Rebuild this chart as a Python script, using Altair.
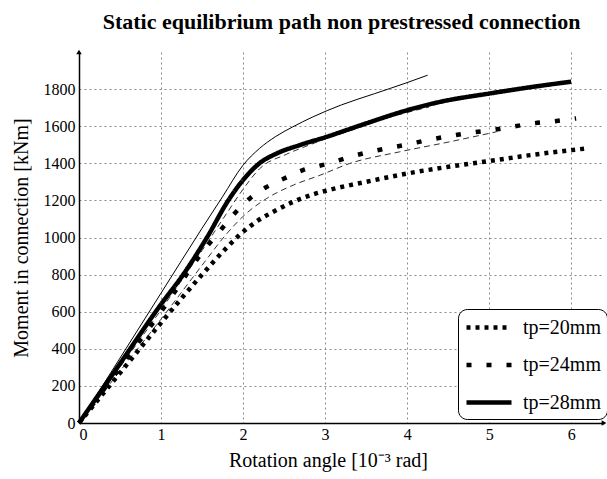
import altair as alt
import pandas as pd

FONT = "Liberation Serif"
X_MAX = 6.4
Y_MAX = 2000

# Rotation angle [1e-3 rad] and moment [kNm] along each equilibrium path
tp20_x = [0, 0.5, 1.0, 1.5, 1.8, 1.96, 2.16, 2.37, 2.61, 2.85, 3.1, 3.5, 4.0, 4.5, 5.0, 5.5, 6.18]
tp20_y = [0, 270, 540, 800, 945, 1015, 1085, 1139, 1192, 1232, 1262, 1300, 1345, 1381, 1412, 1444, 1480]

tp24_x = [0, 0.5, 1.0, 1.54, 1.71, 1.88, 2.06, 2.27, 2.5, 2.73, 3.0, 3.24, 3.49, 3.75, 4.0,
          4.25, 4.51, 4.76, 5.03, 5.28, 5.53, 5.8, 6.06]
tp24_y = [0, 300, 600, 941, 1031, 1121, 1202, 1268, 1318, 1363, 1394, 1426, 1456, 1480, 1501,
          1525, 1546, 1564, 1579, 1597, 1615, 1627, 1642]

tp28_x = [0, 0.5, 1.0, 1.27, 1.56, 1.82, 2.0, 2.2, 2.41, 2.69, 3.02, 3.5, 4.0, 4.4, 5.0, 5.5, 6.0]
tp28_y = [0, 320, 640, 800, 1000, 1200, 1310, 1400, 1453, 1498, 1543, 1615, 1686, 1731, 1776, 1810, 1840]

# companion paths drawn with thin lines
thin_solid_x = [0, 0.5, 1.0, 1.5, 1.75, 2.0, 2.2, 2.4, 2.6, 2.85, 3.2, 3.6, 4.0, 4.25]
thin_solid_y = [0, 350, 700, 1050, 1220, 1390, 1480, 1545, 1595, 1650, 1715, 1775, 1835, 1875]

thin_dash_hi_x = [0, 1.0, 1.5, 1.8, 2.0, 2.2, 2.53, 2.77, 3.02, 3.4, 3.75, 4.0, 4.27]
thin_dash_hi_y = [0, 610, 930, 1130, 1260, 1370, 1449, 1492, 1534, 1590, 1645, 1674, 1704]

thin_dash_lo_x = [0, 0.5, 1.0, 1.5, 1.8, 2.04, 2.29, 2.61, 2.94, 3.3, 3.91, 4.52, 5.09]
thin_dash_lo_y = [0, 280, 560, 850, 1020, 1130, 1211, 1282, 1336, 1399, 1462, 1516, 1570]

series_names = ["tp=20mm", "tp=24mm", "tp=28mm"]
x_ticks = [0, 1, 2, 3, 4, 5, 6]
y_ticks = [0, 200, 400, 600, 800, 1000, 1200, 1400, 1600, 1800]


def frame(name, xs, ys):
    return pd.DataFrame({"rot": xs, "moment": ys, "series": name, "order": range(len(xs))})


main = pd.concat([
    frame("tp=20mm", tp20_x, tp20_y),
    frame("tp=24mm", tp24_x, tp24_y),
    frame("tp=28mm", tp28_x, tp28_y),
])
thin = pd.concat([
    frame("solid", thin_solid_x, thin_solid_y),
    frame("dash_hi", thin_dash_hi_x, thin_dash_hi_y),
    frame("dash_lo", thin_dash_lo_x, thin_dash_lo_y),
])

axis_style = dict(
    labelFont=FONT, labelFontSize=16, labelColor="black",
    titleFont=FONT, titleFontSize=20, titleFontWeight="normal", titleColor="black",
    domainColor="black", domainWidth=1.5, ticks=False, format="d",
    grid=True, gridColor="#8a8a8a", gridDash=[2, 3], gridWidth=1,
)

x_enc = alt.X("rot:Q", scale=alt.Scale(domain=[0, X_MAX], nice=False),
              axis=alt.Axis(title="Rotation angle [10⁻³ rad]", values=x_ticks,
                            titleX=249, titlePadding=8, labelPadding=3, **axis_style))
y_enc = alt.Y("moment:Q", scale=alt.Scale(domain=[0, Y_MAX], nice=False),
              axis=alt.Axis(title="Moment in connection [kNm]", values=y_ticks,
                            titlePadding=12, labelPadding=4, **axis_style))

# legend keys: a long horizontal stroke drawn right of the nominal symbol slot
legend_key = "M-1,0H3.5"

main_lines = alt.Chart(main).mark_line(color="black", strokeCap="butt", interpolate="monotone").encode(
    x=x_enc,
    y=y_enc,
    order="order:Q",
    strokeDash=alt.StrokeDash(
        "series:N",
        scale=alt.Scale(domain=series_names, range=[[4, 5], [5, 15], [1, 0]]),
        legend=alt.Legend(
            title=None, orient="none", legendX=379, legendY=257,
            strokeColor="black", fillColor="white", cornerRadius=9, padding=6,
            symbolType=legend_key, symbolSize=400, symbolStrokeWidth=5,
            symbolStrokeColor="black", symbolFillColor="transparent",
            labelFont=FONT, labelFontSize=20,
            labelOffset=34, rowPadding=14.5, labelColor="black",
        ),
    ),
    strokeWidth=alt.StrokeWidth(
        "series:N",
        scale=alt.Scale(domain=series_names, range=[4.5, 4.5, 3.5]),
        legend=None,
    ),
)

thin_solid = alt.Chart(thin).transform_filter(alt.datum.series == "solid").mark_line(
    color="black", strokeWidth=1, interpolate="monotone"
).encode(x="rot:Q", y="moment:Q", order="order:Q")

thin_dashed = alt.Chart(thin).transform_filter(alt.datum.series != "solid").mark_line(
    color="#333333", strokeWidth=1, strokeDash=[6, 4], interpolate="monotone"
).encode(x="rot:Q", y="moment:Q", detail="series:N", order="order:Q")

# arrow heads at the ends of both axes
arrow_df = pd.DataFrame({"rot": [0, X_MAX], "moment": [Y_MAX, 0],
                         "shape": ["triangle-up", "triangle-right"]})
arrows = alt.Chart(arrow_df).mark_point(filled=True, color="black", size=30, opacity=1).encode(
    x="rot:Q", y="moment:Q", shape=alt.Shape("shape:N", scale=None)
)

chart = alt.layer(thin_solid, thin_dashed, main_lines, arrows).properties(
    width=525, height=371,
    autosize=alt.AutoSizeParams(type="none"),
    padding={"left": 79, "top": 52, "right": 3, "bottom": 56},
    title=alt.Title("Static equilibrium path non prestressed connection",
                    font=FONT, fontSize=22, fontWeight="bold", color="black", offset=16),
).configure_view(stroke=None)

chart.save("out.html", embed_options={"renderer": "svg", "actions": False})
